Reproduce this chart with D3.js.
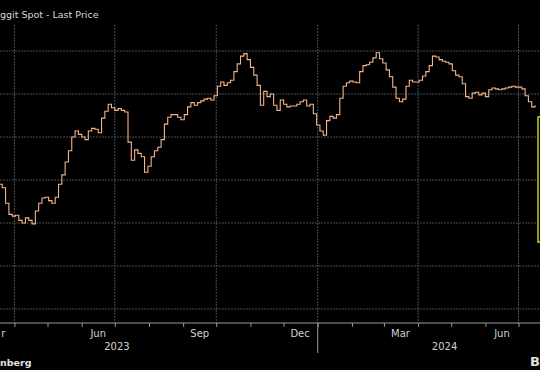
<!DOCTYPE html>
<html>
<head>
<meta charset="utf-8">
<script src="https://cdn.jsdelivr.net/npm/d3@7"></script>
<style>
  html, body { margin: 0; padding: 0; background: #000; }
  svg { display: block; font-family: 'DejaVu Sans', sans-serif; }
</style>
</head>
<body>
<div class="graph"></div>
<script>
// price readings, one every 3 calendar days starting 18 Mar 2023
const sampleStart = '2023-03-18'
const sampleStepDays = 3
const prices = [
  54.5, 54.1, 52.3, 51.0, 50.8, 50.9, 50.3, 50.0, 50.6, 50.3,
  49.9, 51.4, 52.3, 52.9, 53.0, 52.6, 52.3, 53.0, 54.5, 55.6,
  57.1, 58.4, 60.0, 60.7, 60.3, 60.0, 59.7, 60.7, 61.0, 60.9,
  60.5, 62.2, 63.0, 63.8, 63.4, 63.1, 63.3, 63.1, 62.9, 59.4,
  57.3, 58.5, 58.1, 57.7, 55.9, 56.6, 57.7, 58.4, 58.8, 59.7,
  61.5, 62.3, 62.6, 62.6, 62.3, 62.0, 62.6, 63.5, 64.0, 63.7,
  64.0, 64.2, 64.4, 64.5, 64.3, 64.8, 65.9, 66.4, 66.0, 66.3,
  66.6, 67.6, 68.5, 69.4, 69.7, 69.0, 68.1, 67.2, 66.0, 63.7,
  65.3, 64.7, 65.0, 63.7, 63.1, 64.3, 63.8, 63.5, 63.6, 63.6,
  63.8, 64.1, 64.3, 63.6, 63.8, 62.7, 61.4, 60.7, 60.2, 61.9,
  62.4, 62.2, 62.6, 64.5, 65.9, 66.3, 66.5, 66.4, 66.3, 67.6,
  68.3, 68.4, 68.7, 69.2, 69.8, 69.1, 68.6, 67.8, 67.0, 65.8,
  64.5, 64.1, 64.4, 65.9, 66.6, 66.4, 66.4, 66.6, 67.1, 67.6,
  68.3, 69.4, 69.3, 69.0, 68.8, 68.7, 68.5, 67.7, 67.2, 67.0,
  66.2, 64.7, 64.5, 65.1, 65.2, 64.9, 65.1, 64.7, 65.5, 65.7,
  65.6, 65.5, 65.6, 65.7, 65.8, 65.9, 65.8, 65.8, 65.6, 64.8,
  64.1, 63.5, 63.7
]

const yTicks = [40, 45, 50, 55, 60, 65, 70]
const gridDates = ['2023-04-01', '2023-07-01', '2023-10-01', '2024-01-01', '2024-04-01', '2024-07-01']
// the first label is what is left of "Mar" at the cut left edge
const monthLabels = [
  { label: 'r', date: '2023-03-22' },
  { label: 'Jun', date: '2023-06-16' },
  { label: 'Sep', date: '2023-09-16' },
  { label: 'Dec', date: '2023-12-16' },
  { label: 'Mar', date: '2024-03-16' },
  { label: 'Jun', date: '2024-06-16' }
]
const yearLabels = [
  { label: '2023', date: '2023-07-03' },
  { label: '2024', date: '2024-04-25' }
]
const titleText = 'ggit Spot - Last Price'
const sourceText = 'nberg'

const width = 540
const height = 370
const parse = d3.utcParse('%Y-%m-%d')

const start = parse(sampleStart)
const sampleDates = prices.map((_, i) => d3.utcDay.offset(start, i * sampleStepDays))
const data = prices.map((p, i) => ({ date: sampleDates[i], price: p }))

const svg = d3.select('.graph')
  .append('svg')
  .attr('width', width)
  .attr('height', height)

svg.append('rect')
  .attr('width', width)
  .attr('height', height)
  .attr('fill', '#000')

const x = d3.scaleUtc()
  .domain([parse('2023-04-01'), parse('2024-07-01')])
  .range([14.4, 518.5])

const y = d3.scaleLinear()
  .domain([40, 70])
  .range([309, 51])

const plotTop = 25
const axisY = 323

// grid
const grid = svg.append('g').attr('class', 'grid')
grid.selectAll('.hgrid')
  .data(yTicks)
  .join('line')
  .attr('x1', 0)
  .attr('x2', width)
  .attr('y1', d => y(d))
  .attr('y2', d => y(d))
  .attr('stroke', '#4e4e4e')
  .attr('stroke-dasharray', '2,1')

grid.selectAll('.vgrid')
  .data(gridDates.map(parse))
  .join('line')
  .attr('x1', d => x(d))
  .attr('x2', d => x(d))
  .attr('y1', plotTop)
  .attr('y2', axisY)
  .attr('stroke', '#4e4e4e')
  .attr('stroke-dasharray', '2,1')

// price line
svg.append('defs').append('clipPath')
  .attr('id', 'plot-clip')
  .append('rect')
  .attr('x', 0)
  .attr('y', plotTop)
  .attr('width', 537)
  .attr('height', axisY - plotTop)

const line = d3.line()
  .x(d => x(d.date))
  .y(d => y(d.price))
  .curve(d3.curveStepAfter)

svg.append('path')
  .datum(data)
  .attr('clip-path', 'url(#plot-clip)')
  .attr('fill', 'none')
  .attr('stroke', '#f2b48a')
  .attr('stroke-width', 1.1)
  .attr('d', line)

// last price box, cut off at the edge
svg.append('rect')
  .attr('x', 538)
  .attr('y', 117)
  .attr('width', 10)
  .attr('height', 125)
  .attr('fill', '#000')
  .attr('stroke', '#cfcf1a')
  .attr('stroke-width', 1.5)

// x axis
const xAxis = d3.axisBottom(x)
  .ticks(d3.utcMonth.every(1))
  .tickSize(4)
  .tickFormat('')

const axisG = svg.append('g')
  .attr('transform', `translate(0,${axisY})`)
  .call(xAxis)
axisG.select('.domain').attr('stroke', '#9a9a9a').attr('d', `M0,0H${width}`)
axisG.selectAll('.tick line').attr('stroke', '#9a9a9a')

svg.selectAll('.month-label')
  .data(monthLabels)
  .join('text')
  .attr('class', 'month-label')
  .attr('x', d => x(parse(d.date)))
  .attr('y', 337)
  .attr('text-anchor', 'middle')
  .attr('fill', '#d0d0d0')
  .attr('font-size', 10)
  .text(d => d.label)

svg.selectAll('.year-label')
  .data(yearLabels)
  .join('text')
  .attr('class', 'year-label')
  .attr('x', d => x(parse(d.date)))
  .attr('y', 350)
  .attr('text-anchor', 'middle')
  .attr('fill', '#d0d0d0')
  .attr('font-size', 10)
  .text(d => d.label)

// year separator
svg.append('line')
  .attr('x1', x(parse('2024-01-01')))
  .attr('x2', x(parse('2024-01-01')))
  .attr('y1', axisY)
  .attr('y2', 353)
  .attr('stroke', '#9a9a9a')

// title and source
svg.append('text')
  .attr('x', 0)
  .attr('y', 18)
  .attr('fill', '#d8d8d8')
  .attr('font-size', 9.5)
  .text(titleText)

svg.append('text')
  .attr('x', 0)
  .attr('y', 366)
  .attr('fill', '#e0e0e0')
  .attr('font-size', 9.5)
  .attr('font-weight', 'bold')
  .text(sourceText)

svg.append('text')
  .attr('x', 530)
  .attr('y', 366)
  .attr('fill', '#e0e0e0')
  .attr('font-size', 13)
  .attr('font-weight', 'bold')
  .text('B')
</script>
</body>
</html>
